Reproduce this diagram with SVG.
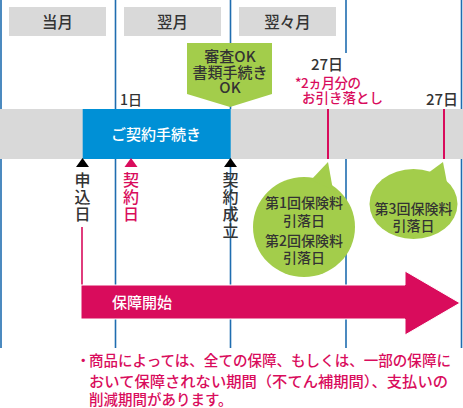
<svg xmlns="http://www.w3.org/2000/svg" width="463" height="408" viewBox="0 0 463 408">
<style>
text{font-family:"Noto Sans CJK JP","Noto Sans",sans-serif;font-weight:500}
.dk{fill:#333}
.pk{fill:#d90c5c}
.wh{fill:#fff}
.mid{text-anchor:middle}
.vt{writing-mode:vertical-rl;font-size:16px;letter-spacing:1px}
.vl{stroke:#1f6db0;stroke-width:1.6;fill:none}
.gray{fill:#d9d9d9}
.green{fill:#a3cd4b}
</style>
<rect width="463" height="408" fill="#fff"/>
<g id="grid">
<line class="vl" x1="1" y1="0" x2="1" y2="348"/>
<line class="vl" x1="115.5" y1="0" x2="115.5" y2="348"/>
<line class="vl" x1="230.5" y1="0" x2="230.5" y2="348"/>
<line class="vl" x1="346" y1="0" x2="346" y2="53"/>
<line class="vl" x1="346" y1="159" x2="346" y2="348"/>
<line class="vl" x1="461.5" y1="0" x2="461.5" y2="348"/>
</g>
<g id="months">
<rect class="gray" x="9" y="7" width="97" height="29"/>
<text class="dk mid" x="57.5" y="27.5" font-size="15.5">当月</text>
<rect class="gray" x="124" y="7" width="97" height="29"/>
<text class="dk mid" x="172.5" y="27.5" font-size="15.5">翌月</text>
<rect class="gray" x="239" y="7" width="97" height="29"/>
<text class="dk mid" x="287.5" y="27.5" font-size="15.5">翌々月</text>
</g>
<g id="band">
<rect class="gray" x="0" y="109" width="463" height="50"/>
<line x1="328" y1="109" x2="328" y2="159" stroke="#d90c5c" stroke-width="2"/>
<line x1="444" y1="109" x2="444" y2="159" stroke="#d90c5c" stroke-width="2"/>
</g>
<g id="procedure">
<rect x="82.7" y="109" width="148" height="50" fill="#0090d6"/>
<text class="wh mid" x="156" y="139.5" font-size="15">ご契約手続き</text>
</g>
<g id="approval">
<polygon class="green" points="187,43 272,43 272,94 230,107 187,94"/>
<text class="dk mid" font-size="15"><tspan x="230" y="62">審査OK</tspan><tspan x="230" y="77.5">書類手続き</tspan><tspan x="230" y="93">OK</tspan></text>
</g>
<g id="labels">
<text class="dk" x="120" y="105" font-size="14" font-weight="normal">1日</text>
<text class="dk" x="343" y="70" font-size="15" font-weight="normal" text-anchor="end">27日</text>
<text class="pk" font-size="13.5"><tspan x="295" y="88" textLength="66" lengthAdjust="spacing">*2ヵ月分の</tspan><tspan x="302" y="103">お引き落とし</tspan></text>
<text class="dk" x="458" y="105" font-size="15" font-weight="normal" text-anchor="end">27日</text>
</g>
<g id="markers">
<polygon points="82.5,158 89,167 76,167" fill="#000"/>
<polygon points="131,158 137.5,167 124.5,167" fill="#d90c5c"/>
<polygon points="230.5,158 237,167 224,167" fill="#000"/>
<text class="dk vt" x="82.5" y="172">申込日</text>
<text class="pk vt" x="131" y="172">契約日</text>
<text class="dk vt" x="230.5" y="172">契約成立</text>
</g>
<g id="bubble1">
<ellipse class="green" cx="304" cy="227" rx="51" ry="50"/>
<polygon class="green" points="311,180 328,162 333,190"/>
<text class="dk mid" font-size="14"><tspan x="304" y="208">第1回保険料</tspan><tspan x="304" y="226">引落日</tspan><tspan x="304" y="246">第2回保険料</tspan><tspan x="304" y="263">引落日</tspan></text>
</g>
<g id="bubble2">
<ellipse class="green" cx="413.5" cy="204" rx="44" ry="35"/>
<polygon class="green" points="424,176 443,162 448,188"/>
<text class="dk mid" font-size="14"><tspan x="413.5" y="214">第3回保険料</tspan><tspan x="413.5" y="230.5">引落日</tspan></text>
</g>
<g id="connectors">
<line x1="82" y1="227" x2="82" y2="286" stroke="#d90c5c" stroke-width="1.6"/>
</g>
<g id="coverage">
<polygon points="81,285 405,285 405,271 460,303 405,335 405,319 81,319" fill="#d90c5c" stroke="#fff" stroke-width="1"/>
<text class="wh" x="112" y="308" font-size="15">保障開始</text>
</g>
<g id="note">
<text class="pk" font-size="14.5" font-weight="bold"><tspan x="76" y="366">・</tspan><tspan x="89" y="366" textLength="362" lengthAdjust="spacingAndGlyphs">商品によっては、全ての保障、もしくは、一部の保障に</tspan><tspan x="89" y="387" textLength="359" lengthAdjust="spacingAndGlyphs">おいて保障されない期間（不てん補期間）、支払いの</tspan><tspan x="89" y="405">削減期間があります。</tspan></text>
</g>
</svg>
